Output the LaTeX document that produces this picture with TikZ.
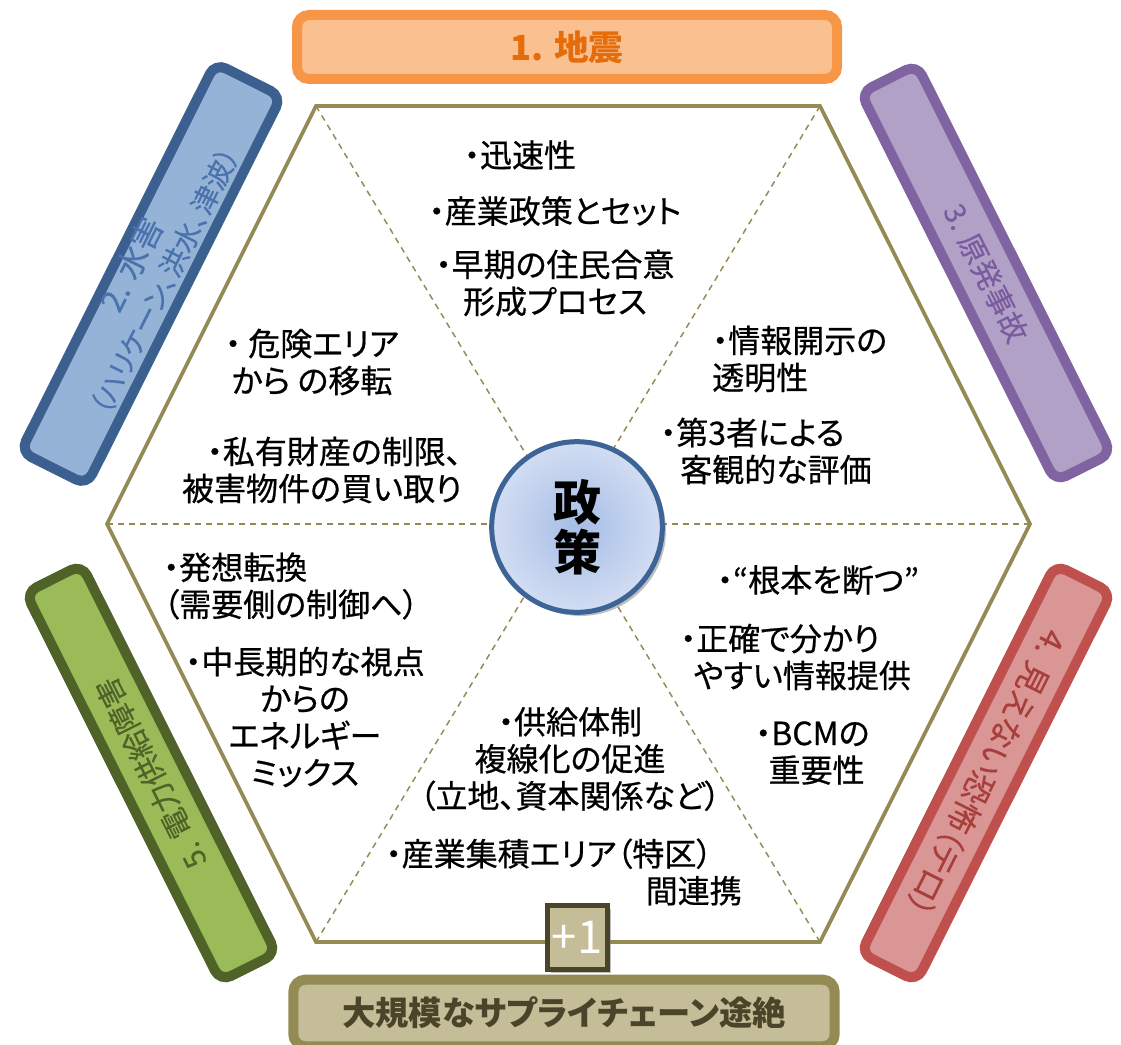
\documentclass[tikz,border=0pt]{standalone}
\usepackage{fontspec}
\setmainfont{Noto Sans CJK JP}[RawFeature=+palt]
\newfontfamily\memofam{Noto Sans CJK JP}[RawFeature=+palt, FakeBold=0.6]
\newfontfamily\barfam{Noto Sans CJK JP}[RawFeature=+palt, FakeBold=0.3]
\usetikzlibrary{shadows}

\definecolor{hexolive}{HTML}{948A54}
\definecolor{lineEq}{HTML}{F79646}\definecolor{fillEq}{HTML}{FAC090}\definecolor{textEq}{HTML}{E46C0A}
\definecolor{lineFl}{HTML}{3B5F8E}\definecolor{fillFl}{HTML}{95B3D7}\definecolor{textFl}{HTML}{4A72AC}
\definecolor{lineNu}{HTML}{8064A2}\definecolor{fillNu}{HTML}{B2A1C7}\definecolor{textNu}{HTML}{7A5C9E}
\definecolor{lineTe}{HTML}{C0504D}\definecolor{fillTe}{HTML}{D99694}\definecolor{textTe}{HTML}{A83E3B}
\definecolor{linePw}{HTML}{4F6228}\definecolor{fillPw}{HTML}{9BBB59}\definecolor{textPw}{HTML}{4F6228}
\definecolor{lineSc}{HTML}{948A54}\definecolor{fillSc}{HTML}{C4BD97}\definecolor{textSc}{HTML}{4A452A}
\definecolor{linePol}{HTML}{3C6496}

\newcommand\memofont{\memofam\fontsize{24pt}{27.75pt}\selectfont}
\newcommand\subfont{\fontsize{21pt}{25pt}\selectfont}
\newcommand\bartitle{\barfam\fontsize{22pt}{28pt}\selectfont}
\newcommand\polfont{\fontsize{36pt}{37.5pt}\selectfont}
\newcommand\plusfont{\fontsize{34pt}{34pt}\selectfont}

\begin{document}
\begin{tikzpicture}[x=0.75pt,y=-0.75pt,
	hexline/.style={draw=hexolive, line width=2.8pt},
	spoke/.style={draw=hexolive, line width=1.1pt, dash pattern=on 4.5pt off 3.75pt},
	hazard/.style 2 args={draw=#1, fill=#2, line width=7.5pt, rounded corners=9pt, minimum width=326pt, minimum height=47pt, inner sep=0pt, align=center, font=\bartitle},
	memo/.style={font=\memofont, inner sep=0pt}]
	\useasboundingbox (0,0) rectangle (1121,1045);
	% hexagon corners
	\coordinate (tl) at (316,106); \coordinate (tr) at (820,106); \coordinate (r) at (1030,524);
	\coordinate (br) at (820,942); \coordinate (bl) at (316,942); \coordinate (l) at (107,524);
	\coordinate (o) at (568,524);
	\foreach \v in {tl, tr, r, br, bl, l}
	\draw[spoke] (\v) -- (o);
	\draw[hexline] (tl) -- (tr) -- (r) -- (br) -- (bl) -- (l) -- cycle;
	\node[circle, draw=linePol, line width=3.75pt, minimum size=128pt, inner color={rgb,255:red,166;green,189;blue,230}, outer color={rgb,255:red,210;green,221;blue,242}, drop shadow, font=\polfont\bfseries, align=center, inner sep=0pt] (pol) at (577,527) {政\\策};
	% hazards
	\node[hazard={lineEq}{fillEq}, minimum width=405pt, minimum height=48pt, font=\fontsize{26pt}{30pt}\selectfont\bfseries, text=textEq] (quake) at (567,47) {1. 地震};
	\node[hazard={lineFl}{fillFl}, rotate=63.4, text=textFl] (flood) at (151,274) {\begin{tabular}{@{}c@{}}{\fontsize{24pt}{26pt}\selectfont 2. 水害}\\[-1pt]{\subfont（ハリケーン、洪水、津波）}\end{tabular}};
	\node[hazard={lineNu}{fillNu}, rotate=-63.4, text=textNu] (nuke) at (986,273) {3. 原発事故};
	\node[hazard={lineTe}{fillTe}, rotate=-116.6, text=textTe, font=\barfam\fontsize{24pt}{28pt}\selectfont] (terror) at (986,773) {4. 見えない恐怖（テロ）};
	\node[hazard={linePw}{fillPw}, rotate=116.6, text=textPw] (power) at (151,773) {5. 電力供給障害};
	\node[hazard={lineSc}{fillSc}, minimum width=406pt, minimum height=50pt, font=\fontsize{25pt}{30pt}\selectfont\bfseries, text=textSc] (chain) at (564,1013) {大規模なサプライチェーン途絶};
	\node[draw=textSc, fill=fillSc, line width=3.75pt, minimum width=45pt, minimum height=48pt, inner sep=0pt, drop shadow, font=\plusfont, text=white] (plus) at (577,937) {\raisebox{-5pt}{+1}};
	% measures
	\node[memo] (m1a) at (520,155) {・迅速性};
	\node[memo] (m1b) at (555,211) {・産業政策とセット};
	\node[memo, align=center] (m1c) at (555,283) {・早期の住民合意\\形成プロセス};
	\node[memo, align=left, anchor=west] (m3a) at (712,359) {・情報開示の\\透明性};
	\node[memo, align=left, anchor=west] (m3b) at (660,451) {・第3者による\\\hspace*{15pt}客観的な評価};
	\node[memo, align=center] (m2a) at (312,362) {・ 危険エリア\\から の移転};
	\node[memo, align=right, anchor=east] (m2b) at (462,470) {・私有財産の制限、\\被害物件の買い取り};
	\node[memo, align=left, anchor=west] (m5a) at (163,586) {・発想転換\\（需要側の制御へ）};
	\node[memo, align=center] (m5b) at (305,717) {・中長期的な視点\\からの\\エネルギー\\ミックス};
	\node[memo, align=center] (m6a) at (570,759) {・供給体制\\複線化の促進\\（立地、資本関係など）};
	\node[memo, align=right, anchor=east] (m6b) at (742,872) {・産業集積エリア（特区）\hspace*{22pt}\\間連携};
	\node[memo] (m4a) at (818,580) {・“根本を断つ”};
	\node[memo, align=left, anchor=west] (m4b) at (680,657) {・正確で分かり\\\hspace*{10pt}やすい情報提供};
	\node[memo, align=left, anchor=west] (m4c) at (755,753) {・BCMの\\\hspace*{10pt}重要性};
\end{tikzpicture}
\end{document}
